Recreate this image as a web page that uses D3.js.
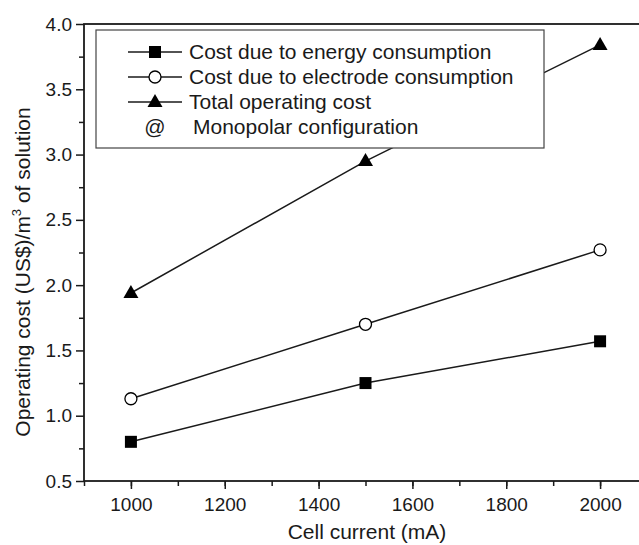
<!DOCTYPE html>
<html>
<head>
<meta charset="utf-8">
<script src="https://cdn.jsdelivr.net/npm/d3@7"></script>
<style>
  body { margin: 0; background: #fff; }
  svg { display: block; font-family: "Liberation Sans", Arial, sans-serif; }
</style>
</head>
<body>
<div id="chart"></div>
<script>
const currents = [1000, 1500, 2000];
const energyCost = [0.80, 1.25, 1.57];
const electrodeCost = [1.13, 1.70, 2.27];
const totalCost = [1.94, 2.95, 3.84];
const xTicks = [1000, 1200, 1400, 1600, 1800, 2000];
const yTicks = [0.5, 1.0, 1.5, 2.0, 2.5, 3.0, 3.5, 4.0];

const seriesList = [
  { label: "Cost due to energy consumption", values: energyCost, marker: "square" },
  { label: "Cost due to electrode consumption", values: electrodeCost, marker: "circle" },
  { label: "Total operating cost", values: totalCost, marker: "triangle" },
];

const width = 639;
const height = 545;
const margin = { left: 84, top: 24, right: 647, bottom: 481 };
const ink = "#1a1a1a";

const x = d3.scaleLinear().domain([900, 2100]).range([margin.left, margin.right]);
const y = d3.scaleLinear().domain([0.5, 4.0]).range([margin.bottom, margin.top]);

const svg = d3.select("#chart").append("svg").attr("width", width).attr("height", height);

// axes
const xAxis = d3.axisBottom(x).tickValues(xTicks).tickSize(8).tickPadding(9).tickFormat(d3.format("d"));
const xMinor = d3.axisBottom(x).tickValues(d3.range(900, 2101, 100)).tickSize(5).tickFormat("");
const yAxis = d3.axisLeft(y).tickValues(yTicks).tickSize(8).tickPadding(4).tickFormat(d3.format(".1f"));
const yMinor = d3.axisLeft(y).tickValues(d3.range(0.75, 4, 0.5)).tickSize(5).tickFormat("");

function styleAxis(g) {
  g.selectAll("path.domain").remove();
  g.selectAll("line").attr("stroke", ink).attr("stroke-width", 1.5);
  g.selectAll("text").attr("fill", ink).style("font-size", "19px");
}

svg.append("g").attr("transform", `translate(0,${margin.bottom})`).call(xMinor).call(styleAxis);
svg.append("g").attr("transform", `translate(0,${margin.bottom})`).call(xAxis).call(styleAxis);
svg.append("g").attr("transform", `translate(${margin.left},0)`).call(yMinor).call(styleAxis);
svg.append("g").attr("transform", `translate(${margin.left},0)`).call(yAxis).call(styleAxis);

// frame
svg.append("rect")
  .attr("x", margin.left).attr("y", margin.top)
  .attr("width", margin.right - margin.left).attr("height", margin.bottom - margin.top)
  .attr("fill", "none").attr("stroke", ink).attr("stroke-width", 1.8);

// axis titles
svg.append("text")
  .attr("x", 367).attr("y", 539)
  .attr("text-anchor", "middle").attr("fill", ink).style("font-size", "21px")
  .text("Cell current (mA)");

const yTitle = svg.append("text")
  .attr("transform", `translate(30,272) rotate(-90)`)
  .attr("text-anchor", "middle").attr("fill", ink).style("font-size", "21px");
yTitle.append("tspan").text("Operating cost (US$)/m");
yTitle.append("tspan").attr("dy", -9).style("font-size", "13px").text("3");
yTitle.append("tspan").attr("dy", 9).text(" of solution");

function drawMarker(g, type, cx, cy) {
  if (type === "square") {
    g.append("rect").attr("x", cx - 6).attr("y", cy - 6).attr("width", 12).attr("height", 12).attr("fill", "#000");
  } else if (type === "circle") {
    g.append("circle").attr("cx", cx).attr("cy", cy).attr("r", 6)
      .attr("fill", "#fff").attr("stroke", "#000").attr("stroke-width", 1.3);
  } else {
    g.append("path").attr("d", `M${cx},${cy - 8}L${cx + 7.5},${cy + 5}L${cx - 7.5},${cy + 5}Z`).attr("fill", "#000");
  }
}

const line = d3.line().x((d) => x(d[0])).y((d) => y(d[1]));

seriesList.forEach((s) => {
  const pts = currents.map((c, i) => [c, s.values[i]]);
  const g = svg.append("g");
  g.append("path").attr("d", line(pts)).attr("fill", "none").attr("stroke", ink).attr("stroke-width", 1.5);
  pts.forEach((p) => drawMarker(g, s.marker, x(p[0]), y(p[1])));
});

// legend
const legend = svg.append("g");
legend.append("rect")
  .attr("x", 96).attr("y", 30).attr("width", 448).attr("height", 118)
  .attr("fill", "#fff").attr("stroke", "#444").attr("stroke-width", 1.2);

seriesList.forEach((s, i) => {
  const ly = 52 + i * 25;
  legend.append("line").attr("x1", 128).attr("x2", 182).attr("y1", ly).attr("y2", ly)
    .attr("stroke", ink).attr("stroke-width", 1.5);
  drawMarker(legend, s.marker, 155, ly);
  legend.append("text").attr("x", 189).attr("y", ly + 7).attr("fill", ink).style("font-size", "21px").text(s.label);
});
legend.append("text").attr("x", 155).attr("y", 134).attr("text-anchor", "middle").attr("fill", ink).style("font-size", "21px").text("@");
legend.append("text").attr("x", 193).attr("y", 134).attr("fill", ink).style("font-size", "21px").text("Monopolar configuration");
</script>
</body>
</html>
